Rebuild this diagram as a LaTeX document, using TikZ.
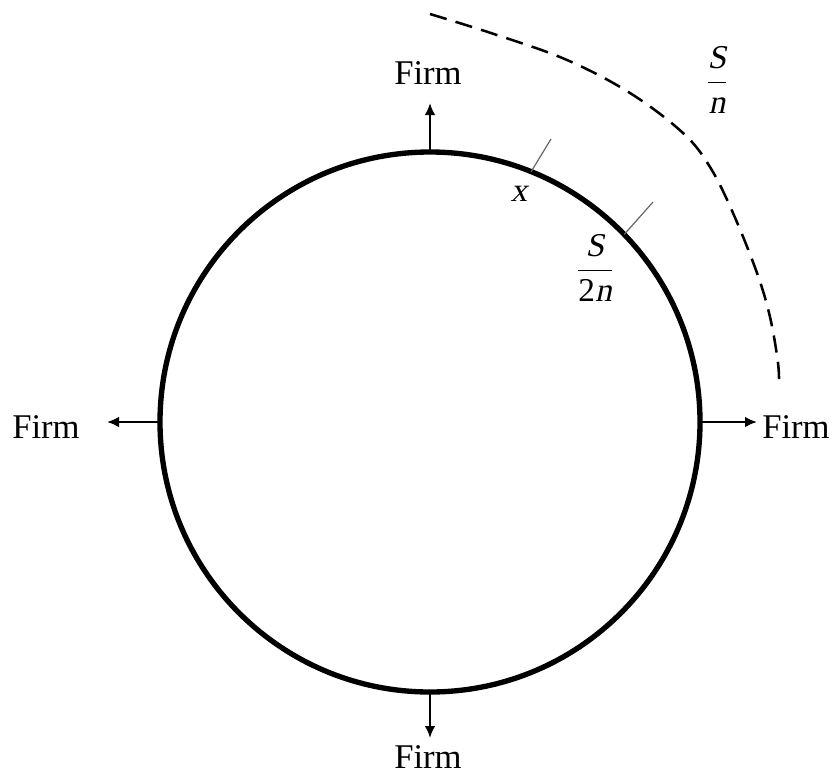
\documentclass[tikz,border=0pt]{standalone}
\usepackage{amsmath}
\usepackage{fontspec}
\setmainfont{Liberation Serif}
\newfontfamily\slfont{Liberation Serif}[FakeSlant=0.21]
\usetikzlibrary{arrows.meta}
\newcommand{\itx}[1]{\mbox{\slfont #1}}
\begin{document}
\begin{tikzpicture}[x=0.75pt,y=-0.75pt,
  firm/.style={font=\fontsize{26}{30}\selectfont, inner sep=0pt},
  fraclabel/.style={font=\fontsize{25}{30}\selectfont, inner sep=0pt},
  arr/.style={line width=1.7pt,-{Latex[length=9pt,width=8pt]}},
  tickline/.style={line width=0.9pt, black!60},
  dashcurve/.style={line width=1.9pt, dash pattern=on 13pt off 7pt}]
\useasboundingbox (0,0) rectangle (832,776);
\node[circle, draw, line width=4pt, minimum size=405pt, inner sep=0pt, outer sep=0pt] (C) at (430,422) {};
% Firm labels
\node[firm] (FT) at (428,73) {Firm};
\node[firm] (FB) at (428,757) {Firm};
\node[firm, anchor=west] (FR) at (762,427) {Firm};
\node[firm] (FL) at (46,427) {Firm};
% arrow ends
\coordinate (aT) at (430,103);
\coordinate (aB) at (430,738);
\coordinate (aR) at (757,422);
\coordinate (aL) at (107,422);
\draw[arr] (C.north) -- (aT);
\draw[arr] (C.south) -- (aB);
\draw[arr] (C.east) -- (aR);
\draw[arr] (C.west) -- (aL);
% ticks
\coordinate (t1) at (551,139);
\coordinate (t2) at (653,202);
\draw[tickline] (C.68) -- (t1);
\draw[tickline] (C.44.5) -- (t2);
% labels
\node[fraclabel] (X) at (519,194) {\slfont x};
\node[fraclabel] (S2n) at (595,268) {$\dfrac{\itx{S}}{\mbox{2}\itx{n}}$};
\node[fraclabel] (Sn) at (717,80) {$\dfrac{\itx{S}}{\itx{n}}$};
% dashed curve
\draw[dashcurve] plot[smooth, tension=0.6] coordinates {(430,14) (497,35) (567,60) (630,93) (683,133) (710,167) (733,213) (757,273) (770,317) (778,363) (779,388)};
\end{tikzpicture}
\end{document}
